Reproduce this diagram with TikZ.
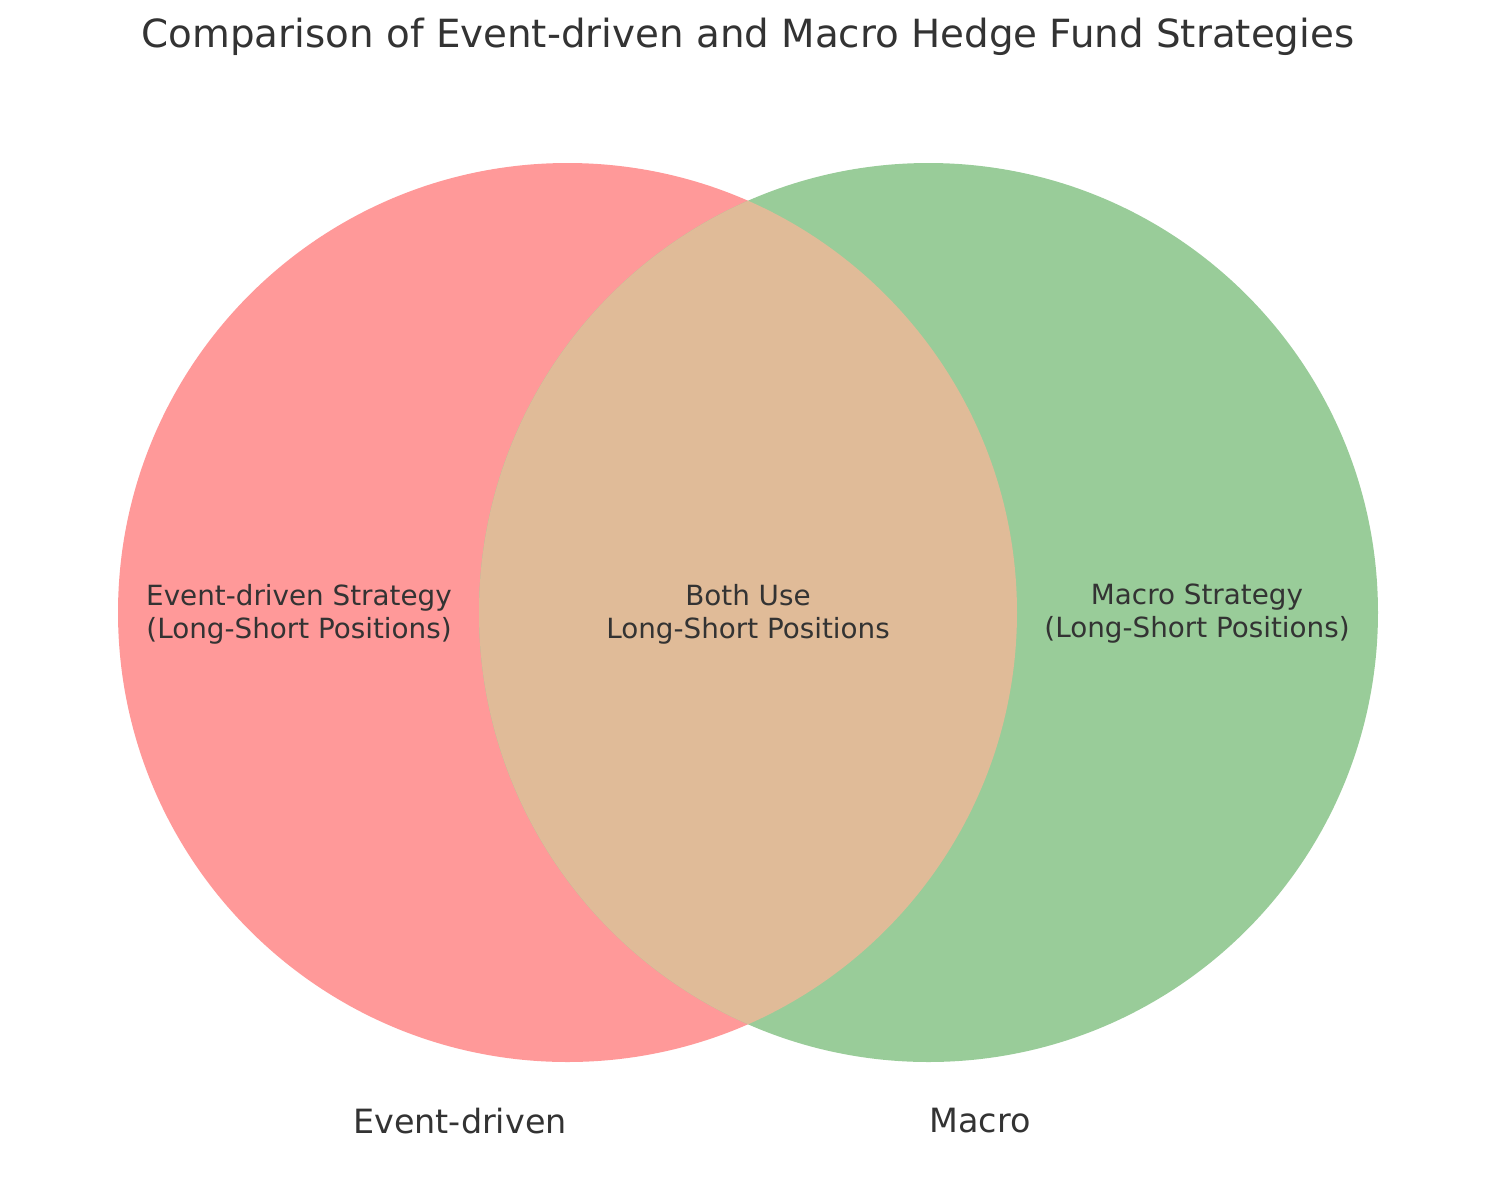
\documentclass[tikz,border=0pt]{standalone}
\usepackage{fontspec}
\setmainfont{DejaVu Sans}
\definecolor{redset}{HTML}{FF9999}
\definecolor{greenset}{HTML}{99CC99}
\definecolor{overlapset}{HTML}{E0BB98}
\definecolor{txt}{HTML}{333333}
\begin{document}
\begin{tikzpicture}[x=0.5pt,y=-0.5pt,
  inner/.style={text=txt,font=\fontsize{13.9}{16.5}\selectfont,align=center,inner sep=0pt},
  setlabel/.style={text=txt,font=\fontsize{16.7}{20}\selectfont,inner sep=0pt},
  titlestyle/.style={text=txt,font=\fontsize{19.4}{23}\selectfont,inner sep=0pt}]
\useasboundingbox (0,0) rectangle (1496,1180);
\fill[redset] (567.5,612.5) circle[radius=449.5];
\fill[greenset] (928.5,612.5) circle[radius=449.5];
\begin{scope}
\clip (567.5,612.5) circle[radius=449.5];
\fill[overlapset] (928.5,612.5) circle[radius=449.5];
\end{scope}
\node[titlestyle] (title) at (748,37) {Comparison of Event-driven and Macro Hedge Fund Strategies};
\node[inner] (left) at (299,614) {Event-driven Strategy\\(Long-Short Positions)};
\node[inner] (mid) at (748,614) {Both Use\\Long-Short Positions};
\node[inner] (right) at (1197,614) {Macro Strategy\\(Long-Short Positions)};
\node[setlabel] (la) at (460,1121) {Event-driven};
\node[setlabel] (lb) at (980,1121) {Macro};
\end{tikzpicture}
\end{document}
